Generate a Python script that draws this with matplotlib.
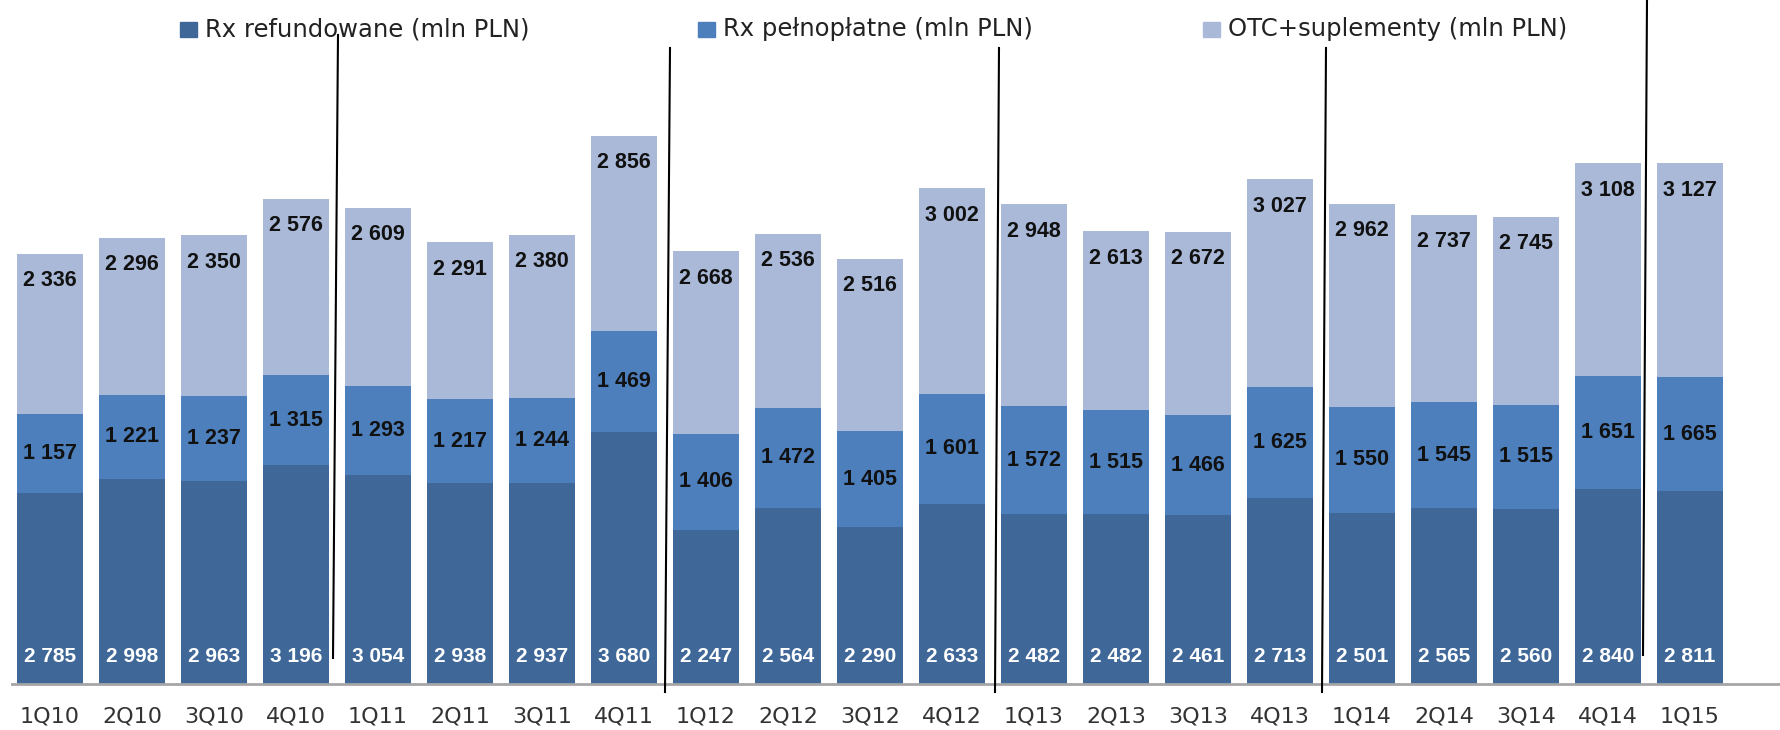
import matplotlib
matplotlib.use("Agg")
import matplotlib.pyplot as plt
from matplotlib import font_manager
from matplotlib.lines import Line2D
from matplotlib.patches import Rectangle
import numpy as np

quarters = ["1Q10", "2Q10", "3Q10", "4Q10", "1Q11", "2Q11", "3Q11", "4Q11",
            "1Q12", "2Q12", "3Q12", "4Q12", "1Q13", "2Q13", "3Q13", "4Q13",
            "1Q14", "2Q14", "3Q14", "4Q14", "1Q15"]
rx_refund = [2785, 2998, 2963, 3196, 3054, 2938, 2937, 3680, 2247, 2564, 2290,
             2633, 2482, 2482, 2461, 2713, 2501, 2565, 2560, 2840, 2811]
rx_full = [1157, 1221, 1237, 1315, 1293, 1217, 1244, 1469, 1406, 1472, 1405,
           1601, 1572, 1515, 1466, 1625, 1550, 1545, 1515, 1651, 1665]
otc = [2336, 2296, 2350, 2576, 2609, 2291, 2380, 2856, 2668, 2536, 2516,
       3002, 2948, 2613, 2672, 3027, 2962, 2737, 2745, 3108, 3127]
series_names = ["Rx refundowane (mln PLN)", "Rx pełnopłatne (mln PLN)",
                "OTC+suplementy (mln PLN)"]

c_dark = "#3f6899"
c_mid = "#4c7fbc"
c_light = "#a9b9d7"

available = {f.name for f in font_manager.fontManager.ttflist}
narrow = "Liberation Sans Narrow" if "Liberation Sans Narrow" in available else "Liberation Sans"
narrow_size = 18 if narrow == "Liberation Sans Narrow" else 15.5


def fmt(v):
    return f"{v:,}".replace(",", " ")


W, H = 1780, 730
fig = plt.figure(figsize=(W / 100, H / 100), dpi=100)
base_px = 684
ax = fig.add_axes([12 / W, (H - base_px) / H, (W - 12) / W, base_px / H])

x = np.arange(len(quarters))
refund = np.array(rx_refund)
full = np.array(rx_full)
light = np.array(otc)
width = 0.8

ax.bar(x, refund, width, color=c_dark, zorder=2)
ax.bar(x, full, width, bottom=refund, color=c_mid, zorder=2)
ax.bar(x, light, width, bottom=refund + full, color=c_light, zorder=2)

px_per_unit = 0.0685
ax.set_ylim(0, base_px / px_per_unit)
ax.set_xlim(-0.463, 21.10)

off = 27 / px_per_unit  # label offset in data units
for i in range(len(quarters)):
    ax.text(x[i], off, fmt(refund[i]), ha="center", va="center", color="white",
            fontsize=15, fontweight="bold", family="Liberation Sans", zorder=3)
    ax.text(x[i], refund[i] + full[i] / 2, fmt(full[i]), ha="center", va="center",
            color="#111111", fontsize=narrow_size, fontweight="bold", family=narrow, zorder=3)
    top = refund[i] + full[i] + light[i]
    ax.text(x[i], top - off, fmt(light[i]), ha="center", va="center",
            color="#111111", fontsize=narrow_size, fontweight="bold", family=narrow, zorder=3)

for s in ["top", "right", "left"]:
    ax.spines[s].set_visible(False)
ax.spines["bottom"].set_color("#a6a6a6")
ax.spines["bottom"].set_linewidth(2)
ax.set_yticks([])
ax.set_xticks(x)
ax.set_xticklabels(quarters, fontsize=16, color="#333333")
ax.tick_params(axis="x", length=0, pad=16)

# legend drawn by hand along the top
leg_x = [180, 698, 1203]
for lx, name, col in zip(leg_x, series_names, [c_dark, c_mid, c_light]):
    fig.patches.append(Rectangle((lx / W, 1 - 37 / H), 17 / W, 15 / H,
                                 transform=fig.transFigure, color=col))
    fig.text((lx + 25) / W, 1 - 29 / H, name, ha="left", va="center",
             fontsize=17.5, color="#222222")

# thin black separator strokes over the chart
seps = [((338, 35), (333, 658)), ((670, 48), (665, 692)), ((999, 48), (995, 692)),
        ((1326, 48), (1322, 692)), ((1647, 0), (1643, 655))]
for (x0, y0), (x1, y1) in seps:
    fig.lines.append(Line2D([x0 / W, x1 / W], [1 - y0 / H, 1 - y1 / H],
                            transform=fig.transFigure, color="black", lw=1.5))

fig.savefig("out.png", dpi=100)
